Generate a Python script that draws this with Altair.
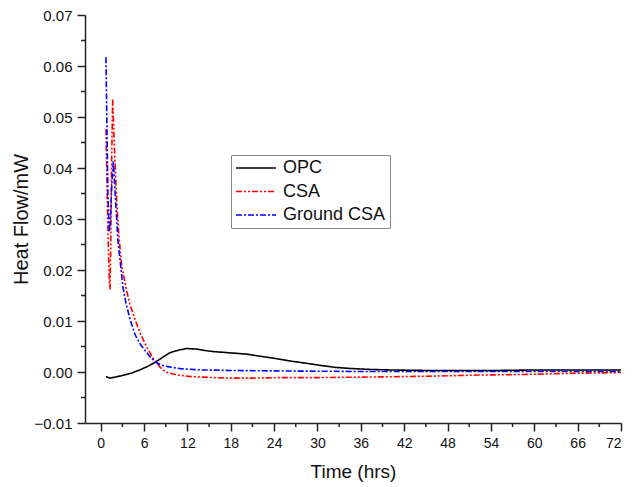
import altair as alt
import pandas as pd

# ---- data ----
opc_t = [0.73, 1.29, 2.0, 3.1, 4.3, 5.4, 6.5, 7.66, 8.6, 9.6, 10.8, 11.9, 13.2, 14.5, 15.6, 17.5,
         20.2, 22.5, 24.4, 26.5, 28.5, 30.4, 32.5, 34.5, 37.3, 40, 45, 50, 55, 60, 66, 72]
opc_v = [-0.0009, -0.0012, -0.0010, -0.00065, -0.0002, 0.0004, 0.0011, 0.0020, 0.0029, 0.0038,
         0.0043, 0.0046, 0.0045, 0.0042, 0.0040, 0.0038, 0.0035, 0.0030, 0.0026, 0.0021, 0.0017,
         0.0013, 0.0009, 0.0007, 0.0005, 0.0004, 0.0003, 0.0003, 0.0003, 0.0004, 0.0004, 0.0004]

csa_t = [0.73, 0.9, 1.05, 1.2, 1.29, 1.4, 1.5, 1.66, 1.85, 2.2, 2.5, 2.9, 3.5, 4.0, 4.75, 5.5,
         6.4, 7.2, 7.75, 8.3, 9.0, 10.0, 11.0, 12.5, 14.0, 15.6, 18.0, 21.0, 24.8, 30, 36, 42,
         46.5, 52, 58, 64, 68, 72]
csa_v = [0.0476, 0.035, 0.025, 0.018, 0.0162, 0.025, 0.040, 0.0536, 0.046, 0.034, 0.027, 0.021,
         0.0165, 0.0135, 0.0103, 0.0075, 0.0048, 0.0028, 0.0018, 0.0008, 0.0000, -0.0004,
         -0.00065, -0.0009, -0.0010, -0.0011, -0.0012, -0.0012, -0.0011, -0.0011, -0.0010,
         -0.0009, -0.0008, -0.0006, -0.0005, -0.0003, -0.0002, -0.0001]

gcsa_t = [0.73, 0.85, 1.0, 1.19, 1.35, 1.55, 1.75, 2.0, 2.4, 3.1, 3.5, 4.06, 4.8, 5.6, 6.37, 7.0,
          7.75, 8.5, 9.5, 11.0, 14.0, 17.9, 24.8, 36, 48, 60, 72]
gcsa_v = [0.0617, 0.050, 0.035, 0.0274, 0.030, 0.037, 0.0414, 0.035, 0.0255, 0.0165, 0.0135,
          0.0103, 0.0072, 0.0052, 0.0038, 0.0027, 0.0018, 0.0013, 0.0010, 0.00066, 0.0004,
          0.0003, 0.0002, 0.0001, 0.0001, 0.0001, 0.0001]

series_names = ["OPC", "CSA", "Ground CSA"]
series_colors = ["#000000", "#ff0000", "#0000ff"]
series_dash = [[1, 0], [6, 2, 2, 2, 2, 2], [6, 2, 2, 2]]

x_major = [0, 6, 12, 18, 24, 30, 36, 42, 48, 54, 60, 66, 72]
x_minor = [3, 9, 15, 21, 27, 33, 39, 45, 51, 57, 63, 69]
y_major = [-0.01, 0.0, 0.01, 0.02, 0.03, 0.04, 0.05, 0.06, 0.07]
y_minor = [-0.005, 0.005, 0.015, 0.025, 0.035, 0.045, 0.055, 0.065]

rows = []
for name, ts, vs in [("OPC", opc_t, opc_v), ("CSA", csa_t, csa_v), ("Ground CSA", gcsa_t, gcsa_v)]:
    for i, (t, v) in enumerate(zip(ts, vs)):
        rows.append({"series": name, "t": t, "v": v, "i": i})
df = pd.DataFrame(rows)

W, H = 536, 408
FONT = "Liberation Sans"

xscale = alt.Scale(domain=[-2.17, 72], nice=False, zero=False)
yscale = alt.Scale(domain=[-0.01, 0.07], nice=False, zero=False)

lines = alt.Chart(df).mark_line(strokeWidth=1.6, clip=True).encode(
    x=alt.X("t:Q", scale=xscale,
            axis=alt.Axis(values=x_major, title="Time (hrs)", grid=False, tickSize=8,
                          labelFontSize=14, titleFontSize=19, titleFontWeight="normal",
                          labelPadding=5, titlePadding=12, format="d")),
    y=alt.Y("v:Q", scale=yscale,
            axis=alt.Axis(values=y_major, title="Heat Flow/mW", grid=False, tickSize=8,
                          format=".2f", labelFontSize=15, titleFontSize=20,
                          titleFontWeight="normal", labelPadding=5, titlePadding=3)),
    color=alt.Color("series:N", scale=alt.Scale(domain=series_names, range=series_colors),
                    legend=alt.Legend(title=None)),
    strokeDash=alt.StrokeDash("series:N", scale=alt.Scale(domain=series_names, range=series_dash),
                              legend=alt.Legend(title=None)),
    order="i:Q",
    detail="series:N",
)

xminor = alt.Chart(pd.DataFrame({"t": x_minor})).mark_rule(color="#222", strokeWidth=1.5).encode(
    x=alt.X("t:Q", scale=xscale), y=alt.value(H), y2=alt.value(H + 4))
yminor = alt.Chart(pd.DataFrame({"v": y_minor})).mark_rule(color="#222", strokeWidth=1.5).encode(
    y=alt.Y("v:Q", scale=yscale), x=alt.value(0), x2=alt.value(-4))

chart = alt.layer(lines, xminor, yminor).properties(
    width=W, height=H,
    autosize=alt.AutoSizeParams(type="none"),
    padding={"left": 77, "top": 7, "right": 4, "bottom": 64},
).configure_view(stroke=None).configure_axis(
    domainColor="#222", domainWidth=1.5, tickColor="#222", tickWidth=1.5,
    labelColor="#111", titleColor="#111", labelFont=FONT, titleFont=FONT,
).configure_legend(
    orient="none", legendX=146, legendY=140, strokeColor="#888", fillColor="white",
    padding=4, symbolType="stroke", symbolSize=1600, symbolStrokeWidth=1.5,
    labelFontSize=18, labelFont=FONT, labelColor="#111", rowPadding=5.5, labelOffset=6,
    clipHeight=18,
)

chart.save("out.html", embed_options={"renderer": "svg", "actions": False})
